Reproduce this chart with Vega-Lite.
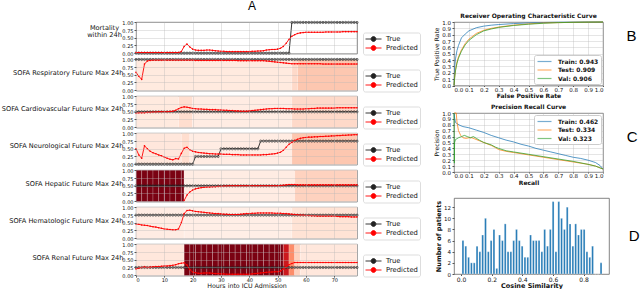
{
"$schema":"https://vega.github.io/schema/vega-lite/v6.json",
"padding":0,
"background":"white",
"title":{"text":"A","anchor":"start","frame":"group","dx":112,"fontSize":12,"font":"Liberation Sans","fontWeight":"normal","offset":-1,"baseline":"top","color":"#000"},
"config":{
 "font":"DejaVu Sans",
 "view":{"stroke":"#666666","strokeWidth":0.8},
 "axis":{"labelFontSize":5.5,"titleFontSize":6,"labelColor":"#111","titleColor":"#111","tickColor":"#555","tickSize":2,"labelPadding":1.5,"titlePadding":2,"gridColor":"#b5b5b5","gridOpacity":0.6,"gridWidth":0.6,"domain":false},
 "legend":{"labelColor":"#111"},
 "title":{"color":"#111"}
},
"datasets":{
"ts":[
{"t":0,"m":0,"mp":0.02,"r":1,"rp":0.58,"c":0.5,"cp":0.46,"n":0,"np":0.5,"h":0.5,"hp":null,"g":0.75,"gp":0.46,"k":0.25,"kp":0.2},
{"t":1,"m":0,"mp":0.02,"r":1,"rp":0.45,"c":0.5,"cp":0.47,"n":0,"np":0.3,"h":0.5,"hp":null,"g":0.75,"gp":0.45,"k":0.25,"kp":0.23},
{"t":2,"m":0,"mp":0.02,"r":1,"rp":0.35,"c":0.5,"cp":0.47,"n":0,"np":0.19,"h":0.5,"hp":null,"g":0.75,"gp":0.43,"k":0.25,"kp":0.25},
{"t":3,"m":0,"mp":0.02,"r":1,"rp":0.85,"c":0.5,"cp":0.47,"n":0,"np":0.6,"h":0.5,"hp":null,"g":0.75,"gp":0.42,"k":0.25,"kp":0.27},
{"t":4,"m":0,"mp":0.02,"r":1,"rp":0.95,"c":0.5,"cp":0.48,"n":0,"np":0.5,"h":0.5,"hp":null,"g":0.75,"gp":0.41,"k":0.25,"kp":0.25},
{"t":5,"m":0,"mp":0.02,"r":1,"rp":0.97,"c":0.5,"cp":0.48,"n":0,"np":0.42,"h":0.5,"hp":null,"g":0.75,"gp":0.39,"k":0.25,"kp":0.26},
{"t":6,"m":0,"mp":0.02,"r":1,"rp":0.98,"c":0.5,"cp":0.49,"n":0,"np":0.37,"h":0.5,"hp":null,"g":0.75,"gp":0.37,"k":0.25,"kp":0.27},
{"t":7,"m":0,"mp":0.02,"r":1,"rp":0.98,"c":0.5,"cp":0.49,"n":0,"np":0.34,"h":0.5,"hp":null,"g":0.75,"gp":0.36,"k":0.25,"kp":0.28},
{"t":8,"m":0,"mp":0.02,"r":1,"rp":0.98,"c":0.5,"cp":0.5,"n":0,"np":0.3,"h":0.5,"hp":null,"g":0.75,"gp":0.34,"k":0.25,"kp":0.28},
{"t":9,"m":0,"mp":0.02,"r":1,"rp":0.98,"c":0.5,"cp":0.5,"n":0,"np":0.27,"h":0.5,"hp":null,"g":0.75,"gp":0.32,"k":0.25,"kp":0.29},
{"t":10,"m":0,"mp":0.02,"r":1,"rp":0.98,"c":0.5,"cp":0.5,"n":0,"np":0.23,"h":0.5,"hp":null,"g":0.75,"gp":0.3,"k":0.25,"kp":0.3},
{"t":11,"m":0,"mp":0.02,"r":1,"rp":0.98,"c":0.5,"cp":0.5,"n":0,"np":0.19,"h":0.5,"hp":null,"g":0.75,"gp":0.29,"k":0.25,"kp":0.3},
{"t":12,"m":0,"mp":0.02,"r":1,"rp":0.98,"c":0.5,"cp":0.51,"n":0,"np":0.16,"h":0.5,"hp":null,"g":0.75,"gp":0.28,"k":0.25,"kp":0.31},
{"t":13,"m":0,"mp":0.02,"r":1,"rp":0.98,"c":0.5,"cp":0.52,"n":0,"np":0.14,"h":0.5,"hp":null,"g":0.75,"gp":0.27,"k":0.25,"kp":0.32},
{"t":14,"m":0,"mp":0.02,"r":1,"rp":0.98,"c":0.5,"cp":0.55,"n":0,"np":0.18,"h":0.5,"hp":null,"g":0.75,"gp":0.27,"k":0.25,"kp":0.34},
{"t":15,"m":0,"mp":0.02,"r":1,"rp":0.98,"c":0.5,"cp":0.6,"n":0,"np":0.17,"h":0.5,"hp":null,"g":0.75,"gp":0.3,"k":0.25,"kp":0.37},
{"t":16,"m":0,"mp":0.05,"r":1,"rp":0.98,"c":0.5,"cp":0.64,"n":0,"np":0.35,"h":0.5,"hp":null,"g":0.75,"gp":0.5,"k":0.25,"kp":0.39},
{"t":17,"m":0,"mp":0.22,"r":1,"rp":0.98,"c":0.5,"cp":0.66,"n":0,"np":0.52,"h":0.5,"hp":0.02,"g":0.75,"gp":0.8,"k":0.25,"kp":0.4},
{"t":18,"m":0,"mp":0.3,"r":1,"rp":0.98,"c":0.5,"cp":0.65,"n":0,"np":0.55,"h":0.5,"hp":0.2,"g":0.75,"gp":0.9,"k":0.25,"kp":0.33},
{"t":19,"m":0,"mp":0.2,"r":1,"rp":0.98,"c":0.5,"cp":0.63,"n":0,"np":0.47,"h":0.5,"hp":0.3,"g":0.75,"gp":0.91,"k":0.25,"kp":0.18},
{"t":20,"m":0,"mp":0.13,"r":1,"rp":0.98,"c":0.5,"cp":0.61,"n":0,"np":0.42,"h":0.5,"hp":0.36,"g":0.75,"gp":0.89,"k":0.25,"kp":0.1},
{"t":21,"m":0,"mp":0.1,"r":1,"rp":0.97,"c":0.5,"cp":0.6,"n":0.25,"np":0.4,"h":0.5,"hp":0.4,"g":0.75,"gp":0.87,"k":0.25,"kp":0.08},
{"t":22,"m":0,"mp":0.09,"r":1,"rp":0.97,"c":0.5,"cp":0.59,"n":0.25,"np":0.38,"h":0.5,"hp":0.42,"g":0.75,"gp":0.86,"k":0.25,"kp":0.06},
{"t":23,"m":0,"mp":0.09,"r":1,"rp":0.97,"c":0.5,"cp":0.59,"n":0.25,"np":0.37,"h":0.5,"hp":0.44,"g":0.75,"gp":0.85,"k":0.25,"kp":0.06},
{"t":24,"m":0,"mp":0.09,"r":1,"rp":0.97,"c":0.5,"cp":0.58,"n":0.25,"np":0.36,"h":0.5,"hp":0.45,"g":0.75,"gp":0.84,"k":0.25,"kp":0.07},
{"t":25,"m":0,"mp":0.1,"r":1,"rp":0.97,"c":0.5,"cp":0.58,"n":0.25,"np":0.35,"h":0.5,"hp":0.46,"g":0.75,"gp":0.83,"k":0.25,"kp":0.07},
{"t":26,"m":0,"mp":0.1,"r":1,"rp":0.97,"c":0.5,"cp":0.57,"n":0.25,"np":0.34,"h":0.5,"hp":0.46,"g":0.75,"gp":0.82,"k":0.25,"kp":0.07},
{"t":27,"m":0,"mp":0.09,"r":1,"rp":0.97,"c":0.5,"cp":0.57,"n":0.25,"np":0.34,"h":0.5,"hp":0.47,"g":0.75,"gp":0.81,"k":0.25,"kp":0.06},
{"t":28,"m":0,"mp":0.08,"r":1,"rp":0.97,"c":0.5,"cp":0.57,"n":0.25,"np":0.33,"h":0.5,"hp":0.47,"g":0.75,"gp":0.8,"k":0.25,"kp":0.05},
{"t":29,"m":0,"mp":0.07,"r":1,"rp":0.97,"c":0.5,"cp":0.56,"n":0.25,"np":0.33,"h":0.5,"hp":0.48,"g":0.75,"gp":0.8,"k":0.25,"kp":0.05},
{"t":30,"m":0,"mp":0.06,"r":1,"rp":0.97,"c":0.5,"cp":0.56,"n":0.5,"np":0.33,"h":0.5,"hp":0.48,"g":0.75,"gp":0.79,"k":0.25,"kp":0.04},
{"t":31,"m":0,"mp":0.06,"r":1,"rp":0.97,"c":0.5,"cp":0.55,"n":0.5,"np":0.32,"h":0.5,"hp":0.49,"g":0.75,"gp":0.78,"k":0.25,"kp":0.04},
{"t":32,"m":0,"mp":0.05,"r":1,"rp":0.97,"c":0.5,"cp":0.55,"n":0.5,"np":0.32,"h":0.5,"hp":0.49,"g":0.75,"gp":0.78,"k":0.25,"kp":0.03},
{"t":33,"m":0,"mp":0.05,"r":1,"rp":0.97,"c":0.5,"cp":0.54,"n":0.5,"np":0.32,"h":0.5,"hp":0.5,"g":0.75,"gp":0.77,"k":0.25,"kp":0.03},
{"t":34,"m":0,"mp":0.05,"r":1,"rp":0.97,"c":0.5,"cp":0.54,"n":0.5,"np":0.31,"h":0.5,"hp":0.5,"g":0.75,"gp":0.77,"k":0.25,"kp":0.03},
{"t":35,"m":0,"mp":0.05,"r":1,"rp":0.97,"c":0.5,"cp":0.53,"n":0.5,"np":0.31,"h":0.5,"hp":0.5,"g":0.75,"gp":0.77,"k":0.25,"kp":0.03},
{"t":36,"m":0,"mp":0.05,"r":1,"rp":0.96,"c":0.5,"cp":0.53,"n":0.5,"np":0.31,"h":0.5,"hp":0.5,"g":0.75,"gp":0.77,"k":0.25,"kp":0.03},
{"t":37,"m":0,"mp":0.05,"r":1,"rp":0.96,"c":0.5,"cp":0.52,"n":0.5,"np":0.3,"h":0.5,"hp":0.5,"g":0.75,"gp":0.78,"k":0.25,"kp":0.03},
{"t":38,"m":0,"mp":0.05,"r":1,"rp":0.96,"c":0.5,"cp":0.52,"n":0.5,"np":0.3,"h":0.5,"hp":0.5,"g":0.75,"gp":0.79,"k":0.25,"kp":0.03},
{"t":39,"m":0,"mp":0.05,"r":1,"rp":0.96,"c":0.5,"cp":0.52,"n":0.5,"np":0.3,"h":0.5,"hp":0.5,"g":0.75,"gp":0.8,"k":0.25,"kp":0.03},
{"t":40,"m":0,"mp":0.05,"r":1,"rp":0.96,"c":0.5,"cp":0.53,"n":0.5,"np":0.3,"h":0.5,"hp":0.5,"g":0.75,"gp":0.8,"k":0.25,"kp":0.03},
{"t":41,"m":0,"mp":0.06,"r":1,"rp":0.96,"c":0.5,"cp":0.54,"n":0.5,"np":0.3,"h":0.5,"hp":0.5,"g":0.75,"gp":0.81,"k":0.25,"kp":0.04},
{"t":42,"m":0,"mp":0.06,"r":1,"rp":0.96,"c":0.5,"cp":0.55,"n":0.5,"np":0.3,"h":0.5,"hp":0.5,"g":0.75,"gp":0.81,"k":0.25,"kp":0.05},
{"t":43,"m":0,"mp":0.07,"r":1,"rp":0.96,"c":0.5,"cp":0.56,"n":0.5,"np":0.3,"h":0.5,"hp":0.5,"g":0.75,"gp":0.82,"k":0.25,"kp":0.06},
{"t":44,"m":0,"mp":0.07,"r":1,"rp":0.96,"c":0.5,"cp":0.57,"n":0.75,"np":0.3,"h":0.5,"hp":0.5,"g":0.75,"gp":0.82,"k":0.25,"kp":0.07},
{"t":45,"m":0,"mp":0.08,"r":1,"rp":0.96,"c":0.5,"cp":0.58,"n":0.75,"np":0.31,"h":0.5,"hp":0.5,"g":0.75,"gp":0.82,"k":0.25,"kp":0.08},
{"t":46,"m":0,"mp":0.1,"r":1,"rp":0.95,"c":0.5,"cp":0.59,"n":0.75,"np":0.31,"h":0.5,"hp":0.5,"g":0.75,"gp":0.82,"k":0.25,"kp":0.09},
{"t":47,"m":0,"mp":0.11,"r":1,"rp":0.94,"c":0.5,"cp":0.6,"n":0.75,"np":0.32,"h":0.5,"hp":0.5,"g":0.75,"gp":0.82,"k":0.25,"kp":0.1},
{"t":48,"m":0,"mp":0.12,"r":1,"rp":0.93,"c":0.5,"cp":0.6,"n":0.75,"np":0.33,"h":0.5,"hp":0.5,"g":0.75,"gp":0.82,"k":0.25,"kp":0.1},
{"t":49,"m":0,"mp":0.12,"r":1,"rp":0.92,"c":0.5,"cp":0.61,"n":0.75,"np":0.34,"h":0.5,"hp":0.5,"g":0.75,"gp":0.81,"k":0.25,"kp":0.11},
{"t":50,"m":0,"mp":0.13,"r":1,"rp":0.91,"c":0.5,"cp":0.61,"n":0.75,"np":0.36,"h":0.5,"hp":0.5,"g":0.75,"gp":0.81,"k":0.25,"kp":0.11},
{"t":51,"m":0,"mp":0.16,"r":1,"rp":0.9,"c":0.5,"cp":0.61,"n":0.75,"np":0.39,"h":0.5,"hp":0.51,"g":0.75,"gp":0.81,"k":0.25,"kp":0.13},
{"t":52,"m":0,"mp":0.22,"r":1,"rp":0.89,"c":0.5,"cp":0.61,"n":0.75,"np":0.45,"h":0.5,"hp":0.52,"g":0.75,"gp":0.8,"k":0.25,"kp":0.2},
{"t":53,"m":0,"mp":0.32,"r":1,"rp":0.88,"c":0.5,"cp":0.6,"n":0.75,"np":0.55,"h":0.5,"hp":0.53,"g":0.75,"gp":0.8,"k":0.25,"kp":0.28},
{"t":54,"m":0,"mp":0.45,"r":1,"rp":0.87,"c":0.5,"cp":0.6,"n":0.75,"np":0.65,"h":0.5,"hp":0.54,"g":0.75,"gp":0.79,"k":0.25,"kp":0.34},
{"t":55,"m":1,"mp":0.55,"r":1,"rp":0.86,"c":0.5,"cp":0.6,"n":0.75,"np":0.71,"h":0.5,"hp":0.54,"g":0.75,"gp":0.78,"k":0.25,"kp":0.38},
{"t":56,"m":1,"mp":0.6,"r":1,"rp":0.86,"c":0.5,"cp":0.59,"n":0.75,"np":0.77,"h":0.5,"hp":0.54,"g":0.75,"gp":0.77,"k":0.25,"kp":0.41},
{"t":57,"m":1,"mp":0.64,"r":1,"rp":0.86,"c":0.5,"cp":0.59,"n":0.75,"np":0.81,"h":0.5,"hp":0.53,"g":0.75,"gp":0.76,"k":0.25,"kp":0.41},
{"t":58,"m":1,"mp":0.66,"r":1,"rp":0.86,"c":0.5,"cp":0.59,"n":0.75,"np":0.84,"h":0.5,"hp":0.53,"g":0.75,"gp":0.75,"k":0.25,"kp":0.41},
{"t":59,"m":1,"mp":0.67,"r":1,"rp":0.86,"c":0.5,"cp":0.59,"n":0.75,"np":0.86,"h":0.5,"hp":0.53,"g":0.75,"gp":0.75,"k":0.25,"kp":0.41},
{"t":60,"m":1,"mp":0.68,"r":1,"rp":0.86,"c":0.5,"cp":0.6,"n":0.75,"np":0.87,"h":0.5,"hp":0.53,"g":0.75,"gp":0.74,"k":0.25,"kp":0.41},
{"t":61,"m":1,"mp":0.68,"r":1,"rp":0.86,"c":0.5,"cp":0.6,"n":0.75,"np":0.88,"h":0.5,"hp":0.53,"g":0.75,"gp":0.74,"k":0.25,"kp":0.41},
{"t":62,"m":1,"mp":0.68,"r":1,"rp":0.86,"c":0.5,"cp":0.61,"n":0.75,"np":0.88,"h":0.5,"hp":0.53,"g":0.75,"gp":0.73,"k":0.25,"kp":0.41},
{"t":63,"m":1,"mp":0.68,"r":1,"rp":0.86,"c":0.5,"cp":0.61,"n":0.75,"np":0.89,"h":0.5,"hp":0.53,"g":0.75,"gp":0.73,"k":0.25,"kp":0.41},
{"t":64,"m":1,"mp":0.68,"r":1,"rp":0.86,"c":0.5,"cp":0.62,"n":0.75,"np":0.89,"h":0.5,"hp":0.53,"g":0.75,"gp":0.72,"k":0.25,"kp":0.41},
{"t":65,"m":1,"mp":0.68,"r":1,"rp":0.86,"c":0.5,"cp":0.62,"n":0.75,"np":0.9,"h":0.5,"hp":0.53,"g":0.75,"gp":0.72,"k":0.25,"kp":0.41},
{"t":66,"m":1,"mp":0.68,"r":1,"rp":0.85,"c":0.5,"cp":0.62,"n":0.75,"np":0.9,"h":0.5,"hp":0.53,"g":0.75,"gp":0.72,"k":0.25,"kp":0.41},
{"t":67,"m":1,"mp":0.69,"r":1,"rp":0.85,"c":0.5,"cp":0.62,"n":0.75,"np":0.91,"h":0.5,"hp":0.53,"g":0.75,"gp":0.72,"k":0.25,"kp":0.41},
{"t":68,"m":1,"mp":0.69,"r":1,"rp":0.85,"c":0.5,"cp":0.62,"n":0.75,"np":0.91,"h":0.5,"hp":0.53,"g":0.75,"gp":0.72,"k":0.25,"kp":0.41},
{"t":69,"m":1,"mp":0.69,"r":1,"rp":0.85,"c":0.5,"cp":0.62,"n":0.75,"np":0.92,"h":0.5,"hp":0.53,"g":0.75,"gp":0.72,"k":0.25,"kp":0.41},
{"t":70,"m":1,"mp":0.69,"r":1,"rp":0.85,"c":0.5,"cp":0.62,"n":0.75,"np":0.92,"h":0.5,"hp":0.53,"g":0.75,"gp":0.72,"k":0.25,"kp":0.41},
{"t":71,"m":1,"mp":0.69,"r":1,"rp":0.85,"c":0.5,"cp":0.63,"n":0.75,"np":0.93,"h":0.5,"hp":0.53,"g":0.75,"gp":0.71,"k":0.25,"kp":0.41},
{"t":72,"m":1,"mp":0.69,"r":1,"rp":0.85,"c":0.5,"cp":0.63,"n":0.75,"np":0.93,"h":0.5,"hp":0.53,"g":0.75,"gp":0.7,"k":0.25,"kp":0.41},
{"t":73,"m":1,"mp":0.7,"r":1,"rp":0.85,"c":0.5,"cp":0.63,"n":0.75,"np":0.94,"h":0.5,"hp":0.53,"g":0.75,"gp":0.7,"k":0.25,"kp":0.41},
{"t":74,"m":1,"mp":0.7,"r":1,"rp":0.85,"c":0.5,"cp":0.63,"n":0.75,"np":0.94,"h":0.5,"hp":0.53,"g":0.75,"gp":0.7,"k":0.25,"kp":0.41},
{"t":75,"m":1,"mp":0.7,"r":1,"rp":0.85,"c":0.5,"cp":0.63,"n":0.75,"np":0.95,"h":0.5,"hp":0.53,"g":0.75,"gp":0.7,"k":0.25,"kp":0.41},
{"t":76,"m":1,"mp":0.7,"r":1,"rp":0.85,"c":0.5,"cp":0.63,"n":0.75,"np":0.95,"h":0.5,"hp":0.53,"g":0.75,"gp":0.69,"k":0.25,"kp":0.41},
{"t":77,"m":1,"mp":0.7,"r":1,"rp":0.85,"c":0.5,"cp":0.63,"n":0.75,"np":0.96,"h":0.5,"hp":0.53,"g":0.75,"gp":0.69,"k":0.25,"kp":0.41},
{"t":78,"m":1,"mp":0.7,"r":1,"rp":0.85,"c":0.5,"cp":0.63,"n":0.75,"np":0.96,"h":0.5,"hp":0.53,"g":0.75,"gp":0.69,"k":0.25,"kp":0.41}
],
"bg":[
{"p":2,"t":0,"e":55,"w":0.05},{"p":2,"t":55,"e":57,"w":0.12},{"p":2,"t":57,"e":78,"w":0.2},
{"p":3,"t":0,"e":15,"w":0.05},{"p":3,"t":15,"e":20,"w":0.1},{"p":3,"t":20,"e":55,"w":0.04},{"p":3,"t":55,"e":78,"w":0.12},
{"p":4,"t":0,"e":16,"w":0.06},{"p":4,"t":16,"e":19,"w":0.1},{"p":4,"t":19,"e":55,"w":0.04},{"p":4,"t":55,"e":78,"w":0.2},
{"p":5,"t":0,"e":2,"w":0.95},{"p":5,"t":2,"e":4,"w":0.95},{"p":5,"t":4,"e":6,"w":0.95},{"p":5,"t":6,"e":8,"w":0.95},{"p":5,"t":8,"e":10,"w":0.95},{"p":5,"t":10,"e":12,"w":0.95},{"p":5,"t":12,"e":14,"w":0.95},{"p":5,"t":14,"e":16,"w":0.95},{"p":5,"t":16,"e":17,"w":0.95},{"p":5,"t":17,"e":56,"w":0.04},{"p":5,"t":56,"e":78,"w":0.15},
{"p":6,"t":0,"e":17,"w":0.04},{"p":6,"t":17,"e":55,"w":0.03},{"p":6,"t":55,"e":78,"w":0.08},
{"p":7,"t":0,"e":17,"w":0.06},{"p":7,"t":17,"e":19,"w":0.95},{"p":7,"t":19,"e":21,"w":0.95},{"p":7,"t":21,"e":23,"w":0.95},{"p":7,"t":23,"e":25,"w":0.95},{"p":7,"t":25,"e":27,"w":0.95},{"p":7,"t":27,"e":29,"w":0.95},{"p":7,"t":29,"e":31,"w":0.95},{"p":7,"t":31,"e":33,"w":0.95},{"p":7,"t":33,"e":35,"w":0.95},{"p":7,"t":35,"e":37,"w":0.95},{"p":7,"t":37,"e":39,"w":0.95},{"p":7,"t":39,"e":41,"w":0.95},{"p":7,"t":41,"e":43,"w":0.95},{"p":7,"t":43,"e":45,"w":0.95},{"p":7,"t":45,"e":47,"w":0.95},{"p":7,"t":47,"e":49,"w":0.95},{"p":7,"t":49,"e":51,"w":0.95},{"p":7,"t":51,"e":52,"w":0.95},{"p":7,"t":52,"e":54,"w":0.75},{"p":7,"t":54,"e":56,"w":0.4},{"p":7,"t":56,"e":58,"w":0.15},{"p":7,"t":58,"e":78,"w":0.06}
],
"roc":[
{"s":"Train: 0.943","x":0,"y":0},{"s":"Train: 0.943","x":0.005,"y":0.3},{"s":"Train: 0.943","x":0.01,"y":0.42},{"s":"Train: 0.943","x":0.02,"y":0.55},{"s":"Train: 0.943","x":0.03,"y":0.63},{"s":"Train: 0.943","x":0.05,"y":0.75},{"s":"Train: 0.943","x":0.075,"y":0.81},{"s":"Train: 0.943","x":0.1,"y":0.86},{"s":"Train: 0.943","x":0.15,"y":0.91},{"s":"Train: 0.943","x":0.2,"y":0.935},{"s":"Train: 0.943","x":0.25,"y":0.95},{"s":"Train: 0.943","x":0.3,"y":0.96},{"s":"Train: 0.943","x":0.4,"y":0.975},{"s":"Train: 0.943","x":0.5,"y":0.985},{"s":"Train: 0.943","x":0.6,"y":0.992},{"s":"Train: 0.943","x":0.7,"y":0.996},{"s":"Train: 0.943","x":0.8,"y":0.998},{"s":"Train: 0.943","x":0.9,"y":1},{"s":"Train: 0.943","x":1,"y":1},
{"s":"Test: 0.909","x":0,"y":0},{"s":"Test: 0.909","x":0.005,"y":0.15},{"s":"Test: 0.909","x":0.01,"y":0.25},{"s":"Test: 0.909","x":0.02,"y":0.37},{"s":"Test: 0.909","x":0.03,"y":0.45},{"s":"Test: 0.909","x":0.05,"y":0.56},{"s":"Test: 0.909","x":0.075,"y":0.66},{"s":"Test: 0.909","x":0.1,"y":0.73},{"s":"Test: 0.909","x":0.15,"y":0.82},{"s":"Test: 0.909","x":0.2,"y":0.87},{"s":"Test: 0.909","x":0.25,"y":0.9},{"s":"Test: 0.909","x":0.3,"y":0.92},{"s":"Test: 0.909","x":0.4,"y":0.95},{"s":"Test: 0.909","x":0.5,"y":0.97},{"s":"Test: 0.909","x":0.6,"y":0.985},{"s":"Test: 0.909","x":0.7,"y":0.99},{"s":"Test: 0.909","x":0.8,"y":0.995},{"s":"Test: 0.909","x":0.9,"y":0.998},{"s":"Test: 0.909","x":1,"y":1},
{"s":"Val: 0.906","x":0,"y":0},{"s":"Val: 0.906","x":0.005,"y":0.13},{"s":"Val: 0.906","x":0.01,"y":0.23},{"s":"Val: 0.906","x":0.02,"y":0.35},{"s":"Val: 0.906","x":0.03,"y":0.43},{"s":"Val: 0.906","x":0.05,"y":0.54},{"s":"Val: 0.906","x":0.075,"y":0.64},{"s":"Val: 0.906","x":0.1,"y":0.71},{"s":"Val: 0.906","x":0.15,"y":0.8},{"s":"Val: 0.906","x":0.2,"y":0.86},{"s":"Val: 0.906","x":0.25,"y":0.89},{"s":"Val: 0.906","x":0.3,"y":0.915},{"s":"Val: 0.906","x":0.4,"y":0.945},{"s":"Val: 0.906","x":0.5,"y":0.965},{"s":"Val: 0.906","x":0.6,"y":0.98},{"s":"Val: 0.906","x":0.7,"y":0.99},{"s":"Val: 0.906","x":0.8,"y":0.995},{"s":"Val: 0.906","x":0.9,"y":0.998},{"s":"Val: 0.906","x":1,"y":1}
],
"pr":[
{"s":"Train: 0.462","x":0,"y":1},{"s":"Train: 0.462","x":0.005,"y":0.9},{"s":"Train: 0.462","x":0.01,"y":0.84},{"s":"Train: 0.462","x":0.02,"y":0.82},{"s":"Train: 0.462","x":0.04,"y":0.79},{"s":"Train: 0.462","x":0.06,"y":0.77},{"s":"Train: 0.462","x":0.1,"y":0.75},{"s":"Train: 0.462","x":0.15,"y":0.71},{"s":"Train: 0.462","x":0.2,"y":0.67},{"s":"Train: 0.462","x":0.25,"y":0.62},{"s":"Train: 0.462","x":0.3,"y":0.58},{"s":"Train: 0.462","x":0.35,"y":0.54},{"s":"Train: 0.462","x":0.4,"y":0.51},{"s":"Train: 0.462","x":0.45,"y":0.47},{"s":"Train: 0.462","x":0.5,"y":0.44},{"s":"Train: 0.462","x":0.55,"y":0.4},{"s":"Train: 0.462","x":0.6,"y":0.37},{"s":"Train: 0.462","x":0.65,"y":0.34},{"s":"Train: 0.462","x":0.7,"y":0.31},{"s":"Train: 0.462","x":0.75,"y":0.28},{"s":"Train: 0.462","x":0.8,"y":0.25},{"s":"Train: 0.462","x":0.85,"y":0.23},{"s":"Train: 0.462","x":0.9,"y":0.2},{"s":"Train: 0.462","x":0.95,"y":0.16},{"s":"Train: 0.462","x":0.98,"y":0.11},{"s":"Train: 0.462","x":1,"y":0.05},
{"s":"Test: 0.334","x":0,"y":1},{"s":"Test: 0.334","x":0.015,"y":1},{"s":"Test: 0.334","x":0.02,"y":0.85},{"s":"Test: 0.334","x":0.03,"y":0.7},{"s":"Test: 0.334","x":0.045,"y":0.62},{"s":"Test: 0.334","x":0.06,"y":0.58},{"s":"Test: 0.334","x":0.08,"y":0.57},{"s":"Test: 0.334","x":0.1,"y":0.58},{"s":"Test: 0.334","x":0.12,"y":0.58},{"s":"Test: 0.334","x":0.14,"y":0.56},{"s":"Test: 0.334","x":0.17,"y":0.53},{"s":"Test: 0.334","x":0.2,"y":0.5},{"s":"Test: 0.334","x":0.25,"y":0.45},{"s":"Test: 0.334","x":0.28,"y":0.41},{"s":"Test: 0.334","x":0.3,"y":0.38},{"s":"Test: 0.334","x":0.35,"y":0.35},{"s":"Test: 0.334","x":0.4,"y":0.33},{"s":"Test: 0.334","x":0.5,"y":0.29},{"s":"Test: 0.334","x":0.6,"y":0.25},{"s":"Test: 0.334","x":0.7,"y":0.21},{"s":"Test: 0.334","x":0.8,"y":0.17},{"s":"Test: 0.334","x":0.9,"y":0.13},{"s":"Test: 0.334","x":0.95,"y":0.1},{"s":"Test: 0.334","x":1,"y":0.05},
{"s":"Val: 0.323","x":0,"y":1},{"s":"Val: 0.323","x":0.002,"y":0.15},{"s":"Val: 0.323","x":0.004,"y":0.5},{"s":"Val: 0.323","x":0.01,"y":0.55},{"s":"Val: 0.323","x":0.03,"y":0.58},{"s":"Val: 0.323","x":0.05,"y":0.6},{"s":"Val: 0.323","x":0.07,"y":0.62},{"s":"Val: 0.323","x":0.09,"y":0.6},{"s":"Val: 0.323","x":0.11,"y":0.58},{"s":"Val: 0.323","x":0.13,"y":0.6},{"s":"Val: 0.323","x":0.15,"y":0.57},{"s":"Val: 0.323","x":0.17,"y":0.54},{"s":"Val: 0.323","x":0.2,"y":0.5},{"s":"Val: 0.323","x":0.25,"y":0.46},{"s":"Val: 0.323","x":0.28,"y":0.42},{"s":"Val: 0.323","x":0.3,"y":0.4},{"s":"Val: 0.323","x":0.35,"y":0.36},{"s":"Val: 0.323","x":0.4,"y":0.34},{"s":"Val: 0.323","x":0.5,"y":0.3},{"s":"Val: 0.323","x":0.6,"y":0.26},{"s":"Val: 0.323","x":0.7,"y":0.22},{"s":"Val: 0.323","x":0.8,"y":0.18},{"s":"Val: 0.323","x":0.9,"y":0.13},{"s":"Val: 0.323","x":0.95,"y":0.1},{"s":"Val: 0.323","x":1,"y":0.05}
],
"hist":[
{"lo":0,"hi":0.0184,"c":6},{"lo":0.0184,"hi":0.0368,"c":5},{"lo":0.0368,"hi":0.0552,"c":3},{"lo":0.0552,"hi":0.0736,"c":2},{"lo":0.0736,"hi":0.092,"c":2},{"lo":0.092,"hi":0.1104,"c":5},{"lo":0.1104,"hi":0.1288,"c":4},{"lo":0.1288,"hi":0.1472,"c":7},{"lo":0.1472,"hi":0.1656,"c":10},{"lo":0.1656,"hi":0.184,"c":4},
{"lo":0.184,"hi":0.2024,"c":6},{"lo":0.2024,"hi":0.2208,"c":8},{"lo":0.2208,"hi":0.2392,"c":1},{"lo":0.2392,"hi":0.2576,"c":7},{"lo":0.2576,"hi":0.276,"c":6},{"lo":0.276,"hi":0.2944,"c":9},{"lo":0.2944,"hi":0.3128,"c":4},{"lo":0.3128,"hi":0.3312,"c":4},{"lo":0.3312,"hi":0.3496,"c":6},{"lo":0.3496,"hi":0.368,"c":8},
{"lo":0.368,"hi":0.3864,"c":6},{"lo":0.3864,"hi":0.4048,"c":5},{"lo":0.4048,"hi":0.4232,"c":3},{"lo":0.4232,"hi":0.4416,"c":3},{"lo":0.4416,"hi":0.46,"c":7},{"lo":0.46,"hi":0.4784,"c":6},{"lo":0.4784,"hi":0.4968,"c":6},{"lo":0.4968,"hi":0.5152,"c":6},{"lo":0.5152,"hi":0.5336,"c":4},{"lo":0.5336,"hi":0.552,"c":8},
{"lo":0.552,"hi":0.5704,"c":5},{"lo":0.5704,"hi":0.5888,"c":8},{"lo":0.5888,"hi":0.6072,"c":13},{"lo":0.6072,"hi":0.6256,"c":4},{"lo":0.6256,"hi":0.644,"c":13},{"lo":0.644,"hi":0.6624,"c":10},{"lo":0.6624,"hi":0.6808,"c":8},{"lo":0.6808,"hi":0.6992,"c":12},{"lo":0.6992,"hi":0.7176,"c":9},{"lo":0.7176,"hi":0.736,"c":5},
{"lo":0.736,"hi":0.7544,"c":9},{"lo":0.7544,"hi":0.7728,"c":7},{"lo":0.7728,"hi":0.7912,"c":8},{"lo":0.7912,"hi":0.8096,"c":8},{"lo":0.8096,"hi":0.828,"c":4},{"lo":0.828,"hi":0.8464,"c":3},{"lo":0.8464,"hi":0.8648,"c":5},{"lo":0.8648,"hi":0.8832,"c":0},{"lo":0.8832,"hi":0.9016,"c":0},{"lo":0.9016,"hi":0.92,"c":2}
]
},
"spacing":12,
"align":"none",
"resolve":{"scale":{"color":"independent","fill":"independent"},"legend":{"color":"independent"}},
"hconcat":[
{"vconcat":[
 {"width":221,"height":31.6,
  "encoding":{"x":{"field":"t","type":"quantitative","scale":{"domain":[0,78],"nice":false,"zero":false},"axis":{"values":[0,10,20,30,40,50,60,70],"labels":false,"ticks":false,"title":null,"grid":true,"zindex":1}}},
  "layer":[
   {"data":{"name":"ts"},"mark":{"type":"line","strokeWidth":0.9,"point":{"filled":false,"size":5,"strokeWidth":0.6}},
    "encoding":{"y":{"field":"m","type":"quantitative","scale":{"domain":[-0.015,1.015],"nice":false,"zero":false},"axis":{"values":[0,0.25,0.5,0.75,1],"format":".2f","title":["Mortality","within 24h"],"titleAngle":0,"titleAlign":"center","titleBaseline":"middle","titleX":-32,"titleY":5,"titleLineHeight":7,"titleFontSize":6.6,"titleFontWeight":"normal","labelFontSize":5,"labelPadding":1,"grid":true,"zindex":1}},
     "color":{"datum":"True","scale":{"domain":["True","Predicted"],"range":["#222222","#ff0000"]},"legend":{"orient":"none","legendX":227,"legendY":10.5,"title":null,"labelFontSize":6.8,"symbolType":"M-2,0H-0.6M0.6,0H2M0.6,0A0.6,0.6,0,1,1,-0.6,0A0.6,0.6,0,1,1,0.6,0","symbolSize":64,"symbolOffset":4,"symbolStrokeWidth":0.9,"fillColor":"white","strokeColor":"#dddddd","padding":2,"cornerRadius":2,"rowPadding":0,"labelOffset":8,"encode":{"symbols":{"update":{"fill":{"signal":"datum.value === 'Predicted' ? '#ff0000' : '#ffffff'"}}}}}}}},
   {"data":{"name":"ts"},"mark":{"type":"line","strokeWidth":0.9,"point":{"filled":true,"size":2.5}},
    "encoding":{"y":{"field":"mp","type":"quantitative","scale":{"domain":[-0.015,1.015],"nice":false,"zero":false},"axis":{"values":[0,0.25,0.5,0.75,1],"format":".2f","title":["Mortality","within 24h"],"titleAngle":0,"titleAlign":"center","titleBaseline":"middle","titleX":-32,"titleY":5,"titleLineHeight":7,"titleFontSize":6.6,"titleFontWeight":"normal","labelFontSize":5,"labelPadding":1,"grid":true,"zindex":1}},
     "color":{"datum":"Predicted"}}}
  ]},
 {"width":221,"height":31.6,
  "encoding":{"x":{"field":"t","type":"quantitative","scale":{"domain":[0,78],"nice":false,"zero":false},"axis":{"values":[0,10,20,30,40,50,60,70],"labels":false,"ticks":false,"title":null,"grid":true,"zindex":1}}},
  "layer":[
   {"data":{"name":"bg"},"transform":[{"filter":"datum.p == 2"}],"mark":{"type":"rect","stroke":"#ffffff","strokeWidth":0.5,"strokeOpacity":0.4},"encoding":{"x2":{"field":"e"},"fill":{"field":"w","type":"quantitative","scale":{"domain":[0,0.25,0.5,0.75,1],"range":["#fff5f0","#fcbba1","#fb6a4a","#cb181d","#67000d"]},"legend":null}}},
   {"data":{"name":"ts"},"mark":{"type":"line","strokeWidth":0.9,"point":{"filled":false,"size":5,"strokeWidth":0.6}},
    "encoding":{"y":{"field":"r","type":"quantitative","scale":{"domain":[-0.015,1.015],"nice":false,"zero":false},"axis":{"values":[0,0.25,0.5,0.75,1],"format":".2f","title":"SOFA Respiratory Future Max 24h","titleAngle":0,"titleAlign":"right","titleBaseline":"middle","titleX":-13,"titleY":13,"titleFontSize":6.6,"titleFontWeight":"normal","labelFontSize":5,"labelPadding":1,"grid":true,"zindex":1}},
     "color":{"datum":"True","scale":{"domain":["True","Predicted"],"range":["#222222","#ff0000"]},"legend":{"orient":"none","legendX":227,"legendY":10.5,"title":null,"labelFontSize":6.8,"symbolType":"M-2,0H-0.6M0.6,0H2M0.6,0A0.6,0.6,0,1,1,-0.6,0A0.6,0.6,0,1,1,0.6,0","symbolSize":64,"symbolOffset":4,"symbolStrokeWidth":0.9,"fillColor":"white","strokeColor":"#dddddd","padding":2,"cornerRadius":2,"rowPadding":0,"labelOffset":8,"encode":{"symbols":{"update":{"fill":{"signal":"datum.value === 'Predicted' ? '#ff0000' : '#ffffff'"}}}}}}}},
   {"data":{"name":"ts"},"mark":{"type":"line","strokeWidth":0.9,"point":{"filled":true,"size":2.5}},
    "encoding":{"y":{"field":"rp","type":"quantitative","scale":{"domain":[-0.015,1.015],"nice":false,"zero":false},"axis":{"values":[0,0.25,0.5,0.75,1],"format":".2f","title":"SOFA Respiratory Future Max 24h","titleAngle":0,"titleAlign":"right","titleBaseline":"middle","titleX":-13,"titleY":13,"titleFontSize":6.6,"titleFontWeight":"normal","labelFontSize":5,"labelPadding":1,"grid":true,"zindex":1}},
     "color":{"datum":"Predicted"}}}
  ]},
 {"width":221,"height":31.6,
  "encoding":{"x":{"field":"t","type":"quantitative","scale":{"domain":[0,78],"nice":false,"zero":false},"axis":{"values":[0,10,20,30,40,50,60,70],"labels":false,"ticks":false,"title":null,"grid":true,"zindex":1}}},
  "layer":[
   {"data":{"name":"bg"},"transform":[{"filter":"datum.p == 3"}],"mark":{"type":"rect","stroke":"#ffffff","strokeWidth":0.5,"strokeOpacity":0.4},"encoding":{"x2":{"field":"e"},"fill":{"field":"w","type":"quantitative","scale":{"domain":[0,0.25,0.5,0.75,1],"range":["#fff5f0","#fcbba1","#fb6a4a","#cb181d","#67000d"]},"legend":null}}},
   {"data":{"name":"ts"},"mark":{"type":"line","strokeWidth":0.9,"point":{"filled":false,"size":5,"strokeWidth":0.6}},
    "encoding":{"y":{"field":"c","type":"quantitative","scale":{"domain":[-0.015,1.015],"nice":false,"zero":false},"axis":{"values":[0,0.25,0.5,0.75,1],"format":".2f","title":"SOFA Cardiovascular Future Max 24h","titleAngle":0,"titleAlign":"right","titleBaseline":"middle","titleX":-13,"titleY":12.5,"titleFontSize":6.6,"titleFontWeight":"normal","labelFontSize":5,"labelPadding":1,"grid":true,"zindex":1}},
     "color":{"datum":"True","scale":{"domain":["True","Predicted"],"range":["#222222","#ff0000"]},"legend":{"orient":"none","legendX":227,"legendY":10.5,"title":null,"labelFontSize":6.8,"symbolType":"M-2,0H-0.6M0.6,0H2M0.6,0A0.6,0.6,0,1,1,-0.6,0A0.6,0.6,0,1,1,0.6,0","symbolSize":64,"symbolOffset":4,"symbolStrokeWidth":0.9,"fillColor":"white","strokeColor":"#dddddd","padding":2,"cornerRadius":2,"rowPadding":0,"labelOffset":8,"encode":{"symbols":{"update":{"fill":{"signal":"datum.value === 'Predicted' ? '#ff0000' : '#ffffff'"}}}}}}}},
   {"data":{"name":"ts"},"mark":{"type":"line","strokeWidth":0.9,"point":{"filled":true,"size":2.5}},
    "encoding":{"y":{"field":"cp","type":"quantitative","scale":{"domain":[-0.015,1.015],"nice":false,"zero":false},"axis":{"values":[0,0.25,0.5,0.75,1],"format":".2f","title":"SOFA Cardiovascular Future Max 24h","titleAngle":0,"titleAlign":"right","titleBaseline":"middle","titleX":-13,"titleY":12.5,"titleFontSize":6.6,"titleFontWeight":"normal","labelFontSize":5,"labelPadding":1,"grid":true,"zindex":1}},
     "color":{"datum":"Predicted"}}}
  ]},
 {"width":221,"height":31.6,
  "encoding":{"x":{"field":"t","type":"quantitative","scale":{"domain":[0,78],"nice":false,"zero":false},"axis":{"values":[0,10,20,30,40,50,60,70],"labels":false,"ticks":false,"title":null,"grid":true,"zindex":1}}},
  "layer":[
   {"data":{"name":"bg"},"transform":[{"filter":"datum.p == 4"}],"mark":{"type":"rect","stroke":"#ffffff","strokeWidth":0.5,"strokeOpacity":0.4},"encoding":{"x2":{"field":"e"},"fill":{"field":"w","type":"quantitative","scale":{"domain":[0,0.25,0.5,0.75,1],"range":["#fff5f0","#fcbba1","#fb6a4a","#cb181d","#67000d"]},"legend":null}}},
   {"data":{"name":"ts"},"mark":{"type":"line","strokeWidth":0.9,"point":{"filled":false,"size":5,"strokeWidth":0.6}},
    "encoding":{"y":{"field":"n","type":"quantitative","scale":{"domain":[-0.015,1.015],"nice":false,"zero":false},"axis":{"values":[0,0.25,0.5,0.75,1],"format":".2f","title":"SOFA Neurological Future Max 24h","titleAngle":0,"titleAlign":"right","titleBaseline":"middle","titleX":-13,"titleY":12.5,"titleFontSize":6.6,"titleFontWeight":"normal","labelFontSize":5,"labelPadding":1,"grid":true,"zindex":1}},
     "color":{"datum":"True","scale":{"domain":["True","Predicted"],"range":["#222222","#ff0000"]},"legend":{"orient":"none","legendX":227,"legendY":10.5,"title":null,"labelFontSize":6.8,"symbolType":"M-2,0H-0.6M0.6,0H2M0.6,0A0.6,0.6,0,1,1,-0.6,0A0.6,0.6,0,1,1,0.6,0","symbolSize":64,"symbolOffset":4,"symbolStrokeWidth":0.9,"fillColor":"white","strokeColor":"#dddddd","padding":2,"cornerRadius":2,"rowPadding":0,"labelOffset":8,"encode":{"symbols":{"update":{"fill":{"signal":"datum.value === 'Predicted' ? '#ff0000' : '#ffffff'"}}}}}}}},
   {"data":{"name":"ts"},"mark":{"type":"line","strokeWidth":0.9,"point":{"filled":true,"size":2.5}},
    "encoding":{"y":{"field":"np","type":"quantitative","scale":{"domain":[-0.015,1.015],"nice":false,"zero":false},"axis":{"values":[0,0.25,0.5,0.75,1],"format":".2f","title":"SOFA Neurological Future Max 24h","titleAngle":0,"titleAlign":"right","titleBaseline":"middle","titleX":-13,"titleY":12.5,"titleFontSize":6.6,"titleFontWeight":"normal","labelFontSize":5,"labelPadding":1,"grid":true,"zindex":1}},
     "color":{"datum":"Predicted"}}}
  ]},
 {"width":221,"height":31.6,
  "encoding":{"x":{"field":"t","type":"quantitative","scale":{"domain":[0,78],"nice":false,"zero":false},"axis":{"values":[0,10,20,30,40,50,60,70],"labels":false,"ticks":false,"title":null,"grid":true,"zindex":1}}},
  "layer":[
   {"data":{"name":"bg"},"transform":[{"filter":"datum.p == 5"}],"mark":{"type":"rect","stroke":"#ffffff","strokeWidth":0.5,"strokeOpacity":0.4},"encoding":{"x2":{"field":"e"},"fill":{"field":"w","type":"quantitative","scale":{"domain":[0,0.25,0.5,0.75,1],"range":["#fff5f0","#fcbba1","#fb6a4a","#cb181d","#67000d"]},"legend":null}}},
   {"data":{"name":"ts"},"mark":{"type":"line","strokeWidth":0.9,"point":{"filled":false,"size":5,"strokeWidth":0.6}},
    "encoding":{"y":{"field":"h","type":"quantitative","scale":{"domain":[-0.015,1.015],"nice":false,"zero":false},"axis":{"values":[0,0.25,0.5,0.75,1],"format":".2f","title":"SOFA Hepatic Future Max 24h","titleAngle":0,"titleAlign":"right","titleBaseline":"middle","titleX":-13,"titleY":13,"titleFontSize":6.6,"titleFontWeight":"normal","labelFontSize":5,"labelPadding":1,"grid":true,"zindex":1}},
     "color":{"datum":"True","scale":{"domain":["True","Predicted"],"range":["#222222","#ff0000"]},"legend":{"orient":"none","legendX":227,"legendY":10.5,"title":null,"labelFontSize":6.8,"symbolType":"M-2,0H-0.6M0.6,0H2M0.6,0A0.6,0.6,0,1,1,-0.6,0A0.6,0.6,0,1,1,0.6,0","symbolSize":64,"symbolOffset":4,"symbolStrokeWidth":0.9,"fillColor":"white","strokeColor":"#dddddd","padding":2,"cornerRadius":2,"rowPadding":0,"labelOffset":8,"encode":{"symbols":{"update":{"fill":{"signal":"datum.value === 'Predicted' ? '#ff0000' : '#ffffff'"}}}}}}}},
   {"data":{"name":"ts"},"mark":{"type":"line","strokeWidth":0.9,"point":{"filled":true,"size":2.5}},
    "encoding":{"y":{"field":"hp","type":"quantitative","scale":{"domain":[-0.015,1.015],"nice":false,"zero":false},"axis":{"values":[0,0.25,0.5,0.75,1],"format":".2f","title":"SOFA Hepatic Future Max 24h","titleAngle":0,"titleAlign":"right","titleBaseline":"middle","titleX":-13,"titleY":13,"titleFontSize":6.6,"titleFontWeight":"normal","labelFontSize":5,"labelPadding":1,"grid":true,"zindex":1}},
     "color":{"datum":"Predicted"}}}
  ]},
 {"width":221,"height":31.6,
  "encoding":{"x":{"field":"t","type":"quantitative","scale":{"domain":[0,78],"nice":false,"zero":false},"axis":{"values":[0,10,20,30,40,50,60,70],"labels":false,"ticks":false,"title":null,"grid":true,"zindex":1}}},
  "layer":[
   {"data":{"name":"bg"},"transform":[{"filter":"datum.p == 6"}],"mark":{"type":"rect","stroke":"#ffffff","strokeWidth":0.5,"strokeOpacity":0.4},"encoding":{"x2":{"field":"e"},"fill":{"field":"w","type":"quantitative","scale":{"domain":[0,0.25,0.5,0.75,1],"range":["#fff5f0","#fcbba1","#fb6a4a","#cb181d","#67000d"]},"legend":null}}},
   {"data":{"name":"ts"},"mark":{"type":"line","strokeWidth":0.9,"point":{"filled":false,"size":5,"strokeWidth":0.6}},
    "encoding":{"y":{"field":"g","type":"quantitative","scale":{"domain":[-0.015,1.015],"nice":false,"zero":false},"axis":{"values":[0,0.25,0.5,0.75,1],"format":".2f","title":"SOFA Hematologic Future Max 24h","titleAngle":0,"titleAlign":"right","titleBaseline":"middle","titleX":-13,"titleY":13,"titleFontSize":6.6,"titleFontWeight":"normal","labelFontSize":5,"labelPadding":1,"grid":true,"zindex":1}},
     "color":{"datum":"True","scale":{"domain":["True","Predicted"],"range":["#222222","#ff0000"]},"legend":{"orient":"none","legendX":227,"legendY":10.5,"title":null,"labelFontSize":6.8,"symbolType":"M-2,0H-0.6M0.6,0H2M0.6,0A0.6,0.6,0,1,1,-0.6,0A0.6,0.6,0,1,1,0.6,0","symbolSize":64,"symbolOffset":4,"symbolStrokeWidth":0.9,"fillColor":"white","strokeColor":"#dddddd","padding":2,"cornerRadius":2,"rowPadding":0,"labelOffset":8,"encode":{"symbols":{"update":{"fill":{"signal":"datum.value === 'Predicted' ? '#ff0000' : '#ffffff'"}}}}}}}},
   {"data":{"name":"ts"},"mark":{"type":"line","strokeWidth":0.9,"point":{"filled":true,"size":2.5}},
    "encoding":{"y":{"field":"gp","type":"quantitative","scale":{"domain":[-0.015,1.015],"nice":false,"zero":false},"axis":{"values":[0,0.25,0.5,0.75,1],"format":".2f","title":"SOFA Hematologic Future Max 24h","titleAngle":0,"titleAlign":"right","titleBaseline":"middle","titleX":-13,"titleY":13,"titleFontSize":6.6,"titleFontWeight":"normal","labelFontSize":5,"labelPadding":1,"grid":true,"zindex":1}},
     "color":{"datum":"Predicted"}}}
  ]},
 {"width":221,"height":31.6,
  "encoding":{"x":{"field":"t","type":"quantitative","scale":{"domain":[0,78],"nice":false,"zero":false},"axis":{"values":[0,10,20,30,40,50,60,70],"title":"Hours into ICU Admission","titleFontSize":6.3,"titleFontWeight":"normal","titlePadding":0,"tickSize":1.5,"labelFontSize":5,"labelPadding":0.5,"grid":true,"zindex":1}}},
  "layer":[
   {"data":{"name":"bg"},"transform":[{"filter":"datum.p == 7"}],"mark":{"type":"rect","stroke":"#ffffff","strokeWidth":0.5,"strokeOpacity":0.4},"encoding":{"x2":{"field":"e"},"fill":{"field":"w","type":"quantitative","scale":{"domain":[0,0.25,0.5,0.75,1],"range":["#fff5f0","#fcbba1","#fb6a4a","#cb181d","#67000d"]},"legend":null}}},
   {"data":{"name":"ts"},"mark":{"type":"line","strokeWidth":0.9,"point":{"filled":false,"size":5,"strokeWidth":0.6}},
    "encoding":{"y":{"field":"k","type":"quantitative","scale":{"domain":[-0.015,1.015],"nice":false,"zero":false},"axis":{"values":[0,0.25,0.5,0.75,1],"format":".2f","title":"SOFA Renal Future Max 24h","titleAngle":0,"titleAlign":"right","titleBaseline":"middle","titleX":-13,"titleY":13,"titleFontSize":6.6,"titleFontWeight":"normal","labelFontSize":5,"labelPadding":1,"grid":true,"zindex":1}},
     "color":{"datum":"True","scale":{"domain":["True","Predicted"],"range":["#222222","#ff0000"]},"legend":{"orient":"none","legendX":227,"legendY":10.5,"title":null,"labelFontSize":6.8,"symbolType":"M-2,0H-0.6M0.6,0H2M0.6,0A0.6,0.6,0,1,1,-0.6,0A0.6,0.6,0,1,1,0.6,0","symbolSize":64,"symbolOffset":4,"symbolStrokeWidth":0.9,"fillColor":"white","strokeColor":"#dddddd","padding":2,"cornerRadius":2,"rowPadding":0,"labelOffset":8,"encode":{"symbols":{"update":{"fill":{"signal":"datum.value === 'Predicted' ? '#ff0000' : '#ffffff'"}}}}}}}},
   {"data":{"name":"ts"},"mark":{"type":"line","strokeWidth":0.9,"point":{"filled":true,"size":2.5}},
    "encoding":{"y":{"field":"kp","type":"quantitative","scale":{"domain":[-0.015,1.015],"nice":false,"zero":false},"axis":{"values":[0,0.25,0.5,0.75,1],"format":".2f","title":"SOFA Renal Future Max 24h","titleAngle":0,"titleAlign":"right","titleBaseline":"middle","titleX":-13,"titleY":13,"titleFontSize":6.6,"titleFontWeight":"normal","labelFontSize":5,"labelPadding":1,"grid":true,"zindex":1}},
     "color":{"datum":"Predicted"}}}
  ]}
],"spacing":5,"bounds":"flush","resolve":{"scale":{"color":"independent","fill":"independent"},"legend":{"color":"independent"}}},
{"vconcat":[
 {"vconcat":[
  {"hconcat":[
   {"width":149,"height":63.5,"data":{"name":"roc"},
    "title":{"text":"Receiver Operating Characteristic Curve","fontSize":6,"fontWeight":"bold","offset":1.5},
    "mark":{"type":"line","strokeWidth":1,"opacity":0.75},
    "encoding":{
     "x":{"field":"x","type":"quantitative","scale":{"domain":[0,1],"nice":false},"axis":{"values":[0,0.1,0.2,0.3,0.4,0.5,0.6,0.7,0.8,0.9,1],"format":".1f","title":"False Positive Rate","titleFontWeight":"bold","titlePadding":0,"tickSize":1,"labelPadding":0.5,"grid":true}},
     "y":{"field":"y","type":"quantitative","scale":{"domain":[0,1],"nice":false},"axis":{"values":[0,0.1,0.2,0.3,0.4,0.5,0.6,0.7,0.8,0.9,1],"format":".1f","title":"True Positive Rate","titleFontWeight":"normal","grid":true}},
     "color":{"field":"s","type":"nominal","scale":{"domain":["Train: 0.943","Test: 0.909","Val: 0.906"],"range":["#1f77b4","#ff7f0e","#2ca02c"]},"legend":{"orient":"bottom-right","title":null,"labelFontSize":6,"labelFontWeight":"bold","symbolType":"M-2,0H2","symbolSize":49,"symbolOffset":4,"labelOffset":9,"symbolStrokeWidth":1.2,"symbolOpacity":0.6,"fillColor":"white","strokeColor":"#cccccc","padding":2,"cornerRadius":2,"rowPadding":0.5,"offset":2}}
    }}
  ],"resolve":{"scale":{"color":"independent"},"legend":{"color":"independent"}},
  "title":{"text":"B","orient":"right","angle":0,"anchor":"middle","font":"Liberation Sans","fontSize":15,"fontWeight":"normal","offset":16,"dy":-27,"color":"#000"}},
  {"hconcat":[
   {"width":149,"height":59,"data":{"name":"pr"},
    "title":{"text":"Precision Recall Curve","fontSize":6,"fontWeight":"bold","offset":1.5},
    "mark":{"type":"line","strokeWidth":1,"opacity":0.75},
    "encoding":{
     "x":{"field":"x","type":"quantitative","scale":{"domain":[0,1],"nice":false},"axis":{"values":[0,0.1,0.2,0.3,0.4,0.5,0.6,0.7,0.8,0.9,1],"format":".1f","title":"Recall","titleFontWeight":"bold","titlePadding":0,"tickSize":1,"labelPadding":0.5,"grid":true}},
     "y":{"field":"y","type":"quantitative","scale":{"domain":[0,1],"nice":false},"axis":{"values":[0,0.1,0.2,0.3,0.4,0.5,0.6,0.7,0.8,0.9,1],"format":".1f","title":"Precision","titleFontWeight":"normal","grid":true}},
     "color":{"field":"s","type":"nominal","scale":{"domain":["Train: 0.462","Test: 0.334","Val: 0.323"],"range":["#1f77b4","#ff7f0e","#2ca02c"]},"legend":{"orient":"top-right","title":null,"labelFontSize":6,"labelFontWeight":"bold","symbolType":"M-2,0H2","symbolSize":49,"symbolOffset":4,"labelOffset":9,"symbolStrokeWidth":1.2,"symbolOpacity":0.6,"fillColor":"white","strokeColor":"#cccccc","padding":2,"cornerRadius":2,"rowPadding":0.5,"offset":2}}
    }}
  ],"resolve":{"scale":{"color":"independent"},"legend":{"color":"independent"}},
  "title":{"text":"C","orient":"right","angle":0,"anchor":"middle","font":"Liberation Sans","fontSize":15,"fontWeight":"normal","offset":16,"dy":-14,"color":"#000"}}
 ],"spacing":4,"align":"none","resolve":{"scale":{"color":"independent"},"legend":{"color":"independent"}}},
 {"hconcat":[
  {"width":155,"height":76,"data":{"name":"hist"},
   "mark":{"type":"bar","color":"#1f77b4","stroke":"#ffffff","strokeWidth":0.3},
   "encoding":{
    "x":{"field":"lo","type":"quantitative","bin":"binned","scale":{"domain":[-0.046,0.966],"nice":false,"zero":false},"axis":{"values":[0,0.2,0.4,0.6,0.8],"format":".1f","title":"Cosine Similarity","titleFontSize":6.5,"labelFontSize":6,"titlePadding":0,"tickSize":1.5,"labelPadding":0.5,"grid":false}},
    "x2":{"field":"hi"},
    "y":{"field":"c","type":"quantitative","scale":{"domain":[0,13.65],"nice":false},"axis":{"values":[0,2,4,6,8,10,12],"title":"Number of patients","titleFontSize":6.5,"grid":false}}
   }}
 ],"title":{"text":"D","orient":"right","angle":0,"anchor":"middle","font":"Liberation Sans","fontSize":15,"fontWeight":"normal","offset":14,"dy":-14,"color":"#000"}}
],"spacing":11,"align":"none","resolve":{"scale":{"color":"independent"},"legend":{"color":"independent"}}}
]
}
